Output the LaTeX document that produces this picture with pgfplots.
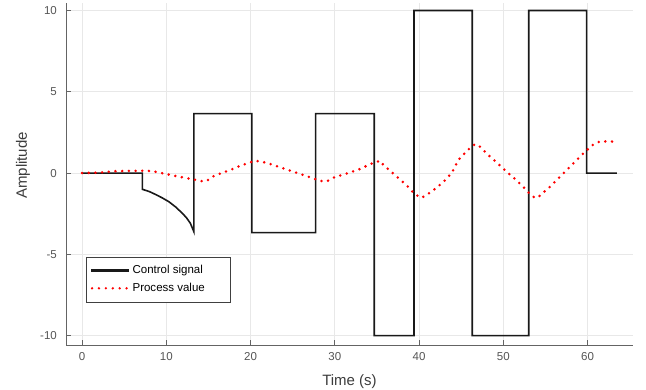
\documentclass[border=0pt]{standalone}
\usepackage{pgfplots}
\pgfplotsset{compat=1.18}
\usepackage{fontspec}
\setmainfont{Liberation Sans}
\definecolor{axgray}{RGB}{100,100,100}
\definecolor{tickgray}{RGB}{85,85,85}
\definecolor{labgray}{RGB}{60,60,60}
\definecolor{pvred}{RGB}{255,0,0}
\begin{document}
\begin{tikzpicture}
\begin{axis}[
  scale only axis,
  width=566.7pt, height=342.3pt,
  xmin=-1.9, xmax=65.4,
  ymin=-10.585, ymax=10.48,
  axis lines=left,
  axis line style={-, axgray, line width=0.8pt},
  tick style={axgray, line width=0.8pt},
  tick align=inside,
  major tick length=5pt,
  xtick={0,10,20,30,40,50,60},
  xticklabels={0,10,20,30,40,50,60},
  ytick={-10,-5,0,5,10},
  yticklabels={-10,-5,0,5,10},
  xticklabel style={anchor=north, inner sep=0pt, yshift=-7pt, font=\fontsize{11.5}{13}\selectfont, text=tickgray},
  yticklabel style={anchor=east, inner sep=0pt, xshift=-9pt, font=\fontsize{11.5}{13}\selectfont, text=tickgray},
  grid=major,
  grid style={color=black!9, line width=0.6pt},
  xlabel={Time (s)},
  ylabel={Amplitude},
  xlabel style={at={(rel axis cs:0.5,0)}, anchor=center, yshift=-36pt, font=\fontsize{15}{18}\selectfont, text=labgray},
  ylabel style={at={(rel axis cs:0,0.525)}, anchor=center, yshift=43pt, font=\fontsize{15}{18}\selectfont, text=labgray},
  legend style={at={(rel axis cs:0.035,0.126)}, anchor=south west,
    draw=black!75, fill=white,
    font=\fontsize{11.5}{13}\selectfont,
    inner xsep=4.5pt, inner ysep=6pt, row sep=2.7pt,
    nodes={inner sep=2pt, text height=8.5pt, text depth=2.5pt}},
  legend cell align=left,
]
\coordinate (ll) at (rel axis cs:0,0);
\coordinate (ur) at (rel axis cs:1,1);
\addplot[black!90, line width=1.6pt, line join=miter,
  legend image code/.code={\path[draw=none,fill=none] (0pt,0pt) -- (40pt,0pt); \fill[black!90, draw=none] (0pt,-1.1pt) rectangle (38pt,1.1pt);}] coordinates {
(0,0) (7.17,0) (7.17,-1.0) (8.0,-1.14) (8.7,-1.31) (9.5,-1.52) (10.3,-1.76)
(11.1,-2.08) (11.9,-2.47) (12.4,-2.75) (12.86,-3.09) (13.27,-3.6)
(13.27,3.66) (20.16,3.66) (20.16,-3.66) (27.72,-3.66) (27.72,3.66)
(34.68,3.66) (34.68,-10) (39.4,-10) (39.4,10) (46.32,10) (46.32,-10)
(53.02,-10) (53.02,10) (59.9,10) (59.9,0) (63.5,0)
};
\addlegendentry{\makebox[91pt][l]{Control signal}}
\addplot[pvred, line width=2.8pt, line cap=round, dash pattern=on 0pt off 6.7pt,
  legend image code/.code={\path[draw=none,fill=none] (0pt,0pt) -- (40pt,0pt); \foreach \i in {0,...,5} {\fill[pvred, draw=none] (1.5pt+\i*6.9pt,0pt) circle (1.3pt);}}] coordinates {
(0,0) (2,0.03) (4,0.12) (7.2,0.14) (8.3,0.13) (9.6,-0.02) (11.2,-0.19)
(12.2,-0.29) (13,-0.37) (14,-0.47) (14.4,-0.52) (14.9,-0.44) (15.5,-0.22)
(16.4,-0.03) (17.5,0.17) (18.7,0.43) (19.9,0.65) (20.5,0.75) (21.0,0.73)
(21.3,0.7) (22.1,0.6) (22.9,0.46) (25,0.1) (27,-0.25) (28.2,-0.46)
(28.8,-0.53) (29.2,-0.47) (29.8,-0.29) (30.6,-0.16) (31.8,0.04) (33.0,0.25)
(34.2,0.55) (34.8,0.66) (35.4,0.76) (35.75,0.51) (36.7,0.08) (37.6,-0.33)
(38.5,-0.74) (39.4,-1.25) (39.9,-1.42) (40.3,-1.52) (40.9,-1.35) (42.0,-0.94)
(43.0,-0.49) (43.9,0.02) (44.66,0.8) (45.53,1.27) (46.32,1.68) (46.72,1.78)
(47.23,1.62) (48.22,1.11) (49.2,0.66) (50.2,0.18) (51.19,-0.27) (52.18,-0.74)
(53.17,-1.29) (53.56,-1.46) (54.08,-1.52) (54.56,-1.29) (55.55,-0.84)
(56.53,-0.33) (57.53,0.18) (58.51,0.70) (59.5,1.21) (60.5,1.68) (61.1,1.89)
(61.7,1.95) (63.5,1.93)
};
\addlegendentry{\makebox[91pt][l]{Process value}}
\end{axis}
\pgfresetboundingbox
\path ([xshift=-66pt,yshift=-44pt]ll) rectangle ([xshift=13pt,yshift=2.7pt]ur);
\end{tikzpicture}
\end{document}
